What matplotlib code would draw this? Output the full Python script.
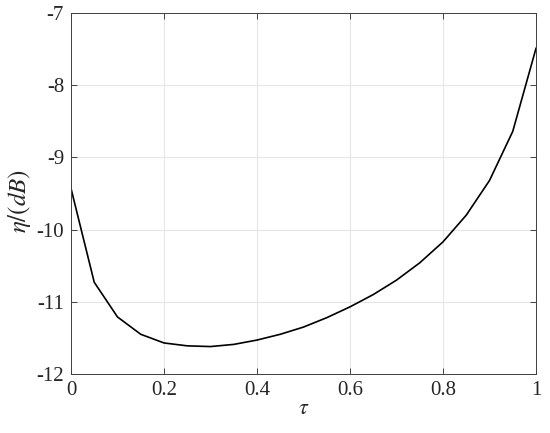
import matplotlib
matplotlib.use("Agg")
import matplotlib.pyplot as plt

tau = [0.0, 0.05, 0.1, 0.15, 0.2, 0.25, 0.3, 0.35, 0.4, 0.45, 0.5,
       0.55, 0.6, 0.65, 0.7, 0.75, 0.8, 0.85, 0.9, 0.95, 1.0]
eta = [-9.43, -10.73, -11.21, -11.45, -11.57, -11.61, -11.62, -11.59, -11.53, -11.45, -11.35,
       -11.22, -11.07, -10.90, -10.70, -10.46, -10.17, -9.80, -9.32, -8.64, -7.49]
xticks = [0, 0.2, 0.4, 0.6, 0.8, 1]
xticklabels = ["0", "0.2", "0.4", "0.6", "0.8", "1"]
yticks = [-12, -11, -10, -9, -8, -7]
yticklabels = ["-12", "-11", "-10", "-9", "-8", "-7"]

plt.rcParams['font.family'] = ['Liberation Serif', 'DejaVu Serif']
plt.rcParams['mathtext.fontset'] = 'stix'

fig = plt.figure(figsize=(5.5, 4.33), dpi=100)
ax = fig.add_axes([71/550, 1 - 374/433, (536-71)/550, (374-13)/433])
ax.plot(tau, eta, color='black', lw=1.2)
ax.set_xlim(0, 1)
ax.set_ylim(-12, -7)
ax.set_xticks(xticks)
ax.set_xticklabels(xticklabels)
ax.set_yticks(yticks)
ax.set_yticklabels(yticklabels)
ax.grid(True, color='#e6e6e6', lw=0.8)
ax.tick_params(direction='in', top=True, right=True, labelsize=15, colors='#262626',
               length=4, width=0.6, pad=5)
for s in ax.spines.values():
    s.set_color('#404040')
    s.set_linewidth(0.7)
ax.set_xlabel(r'$\tau$', fontsize=16, color='#262626', labelpad=0)
ax.set_ylabel(r'$\eta/(dB)$', fontsize=18, color='#262626', labelpad=0)
ax.yaxis.set_label_coords(-0.082, 0.48)
fig.savefig('out.png', dpi=100)
